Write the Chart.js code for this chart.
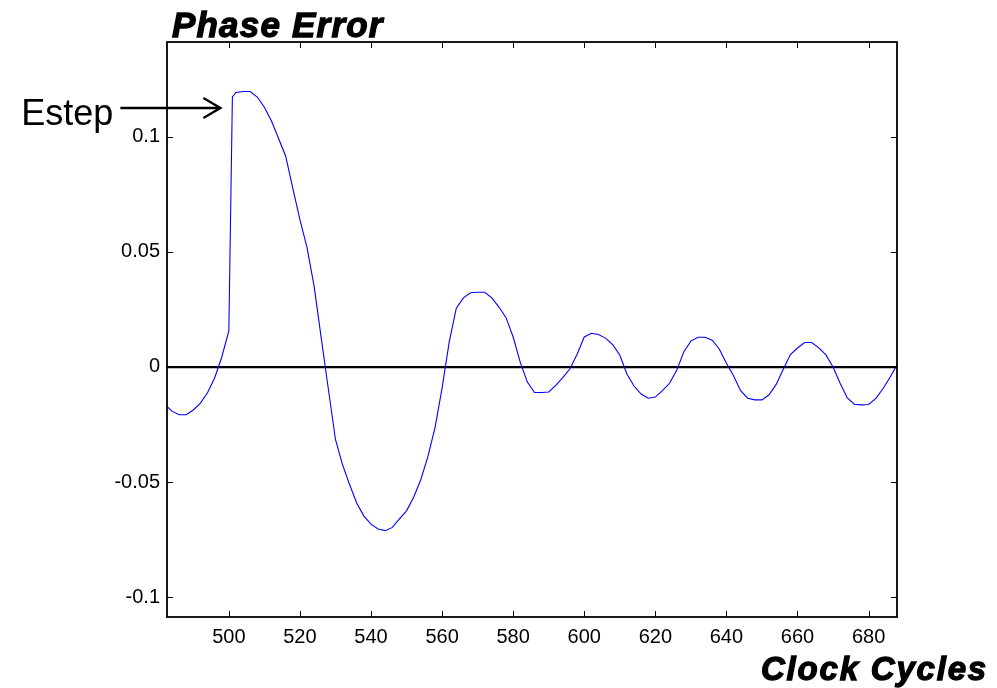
<!DOCTYPE html>
<html>
<head>
<meta charset="utf-8">
<script src="https://cdn.jsdelivr.net/npm/chart.js@4/dist/chart.umd.min.js"></script>
<style>
    html, body { margin: 0; padding: 0; background: #fff; }
    #wrap { width: 997px; height: 688px; }
</style>
</head>
<body>
<div id="wrap"><canvas id="phaseCanvas"></canvas></div>
<script>
// Phase error vs clock cycle
const cycles = [482.6, 484, 486, 488, 490, 492, 494, 496, 498, 500, 501, 502, 504, 506, 508, 510,
    512, 514, 516, 518, 520, 522, 524, 526, 528, 530, 532, 534, 536, 538, 540, 542, 544, 546, 548,
    550, 552, 554, 556, 558, 560, 562, 564, 566, 568, 570, 572, 574, 576, 578, 580, 582, 584, 586,
    588, 590, 592, 594, 596, 598, 600, 602, 604, 606, 608, 610, 612, 614, 616, 618, 620, 622, 624,
    626, 628, 630, 632, 634, 636, 638, 640, 642, 644, 646, 648, 650, 652, 654, 656, 658, 660, 662,
    664, 666, 668, 670, 672, 674, 676, 678, 680, 682, 684, 686, 688];
const phaseError = [-0.0172, -0.0192, -0.0208, -0.0208, -0.0187, -0.0157, -0.0112, -0.0048, 0.0042,
    0.0156, 0.1172, 0.1192, 0.1196, 0.1196, 0.1172, 0.1128, 0.1068, 0.0992, 0.0915, 0.0775, 0.0640,
    0.0518, 0.0350, 0.0125, -0.0096, -0.0315, -0.0425, -0.0512, -0.0592, -0.0648, -0.0683, -0.0704,
    -0.0711, -0.0697, -0.0660, -0.0625, -0.0566, -0.0490, -0.0390, -0.0265, -0.0092, 0.0108, 0.0255,
    0.0300, 0.0322, 0.0324, 0.0324, 0.0300, 0.0260, 0.0214, 0.0130, 0.0020, -0.0066, -0.0111, -0.0111,
    -0.0109, -0.0080, -0.0045, -0.0008, 0.0055, 0.0130, 0.0146, 0.0141, 0.0125, 0.0097, 0.0052,
    -0.0031, -0.0083, -0.0118, -0.0136, -0.0131, -0.0103, -0.0071, -0.0015, 0.0065, 0.0112, 0.0129,
    0.0129, 0.0116, 0.0078, 0.0016, -0.0038, -0.0103, -0.0136, -0.0143, -0.0143, -0.0121, -0.0076,
    -0.0010, 0.0054, 0.0082, 0.0106, 0.0106, 0.0083, 0.0052, 0.0000, -0.0071, -0.0135, -0.0162,
    -0.0165, -0.0163, -0.0138, -0.0096, -0.0046, 0.0009];
const xTicks = [500, 520, 540, 560, 580, 600, 620, 640, 660, 680];
const yTicks = [-0.1, -0.05, 0, 0.05, 0.1];

const FONT = "'Liberation Sans', Arial, sans-serif";

// heavy italic label (the original uses a black weight)
function heavyText(ctx, text, x, y) {
    ctx.fillText(text, x, y);
    ctx.lineWidth = 1.3;
    ctx.strokeText(text, x, y);
}

// box, inward ticks and the text annotations, MATLAB style
const matlabFrame = {
    id: 'matlabFrame',
    afterDraw(chart) {
        const { ctx, chartArea: a, scales: { x, y } } = chart;
        ctx.save();
        ctx.strokeStyle = '#000';
        ctx.lineWidth = 1;
        ctx.beginPath();
        x.ticks.forEach(t => {
            const px = Math.round(x.getPixelForValue(t.value)) + 0.5;
            ctx.moveTo(px, a.bottom); ctx.lineTo(px, a.bottom - 6);
            ctx.moveTo(px, a.top); ctx.lineTo(px, a.top + 6);
        });
        y.ticks.forEach(t => {
            const py = Math.round(y.getPixelForValue(t.value)) + 0.5;
            ctx.moveTo(a.left, py); ctx.lineTo(a.left + 6, py);
            ctx.moveTo(a.right, py); ctx.lineTo(a.right - 6, py);
        });
        ctx.stroke();

        ctx.lineWidth = 1.8;
        ctx.strokeRect(a.left, a.top, a.right - a.left, a.bottom - a.top);

        // titles
        ctx.fillStyle = '#000';
        ctx.textBaseline = 'alphabetic';
        ctx.font = "italic bold 35px " + FONT;
        ctx.letterSpacing = '1.2px';
        ctx.textAlign = 'left';
        heavyText(ctx, 'Phase Error', a.left + 5, a.top - 5);
        ctx.font = "italic bold 33px " + FONT;
        ctx.letterSpacing = '1.8px';
        ctx.textAlign = 'right';
        heavyText(ctx, 'Clock Cycles', 988, a.bottom + 63);
        ctx.letterSpacing = '0px';

        // Estep arrow pointing at the step
        const tipX = x.getPixelForValue(cycles[10]) - 12;
        const tipY = y.getPixelForValue(phaseError[10]) + 11;
        ctx.font = "36px " + FONT;
        ctx.textAlign = 'right';
        ctx.fillText('Estep', tipX - 107, tipY + 17);
        ctx.lineWidth = 2.4;
        ctx.beginPath();
        ctx.moveTo(tipX - 100, tipY); ctx.lineTo(tipX, tipY);
        ctx.moveTo(tipX - 17, tipY - 10); ctx.lineTo(tipX, tipY); ctx.lineTo(tipX - 17, tipY + 10);
        ctx.stroke();
        ctx.restore();
    }
};

new Chart(document.getElementById('phaseCanvas').getContext('2d'), {
    type: 'line',
    data: {
        datasets: [{
            data: cycles.map((c, i) => ({ x: c, y: phaseError[i] })),
            borderColor: '#0000ff',
            borderWidth: 1.1,
            pointRadius: 0,
            tension: 0,
            fill: false
        }]
    },
    options: {
        responsive: true,
        maintainAspectRatio: false,
        animation: false,
        layout: { padding: { left: 0, top: 42, right: 100, bottom: 0 } },
        plugins: { legend: { display: false }, tooltip: { enabled: false } },
        scales: {
            x: {
                type: 'linear',
                min: 482.6,
                max: 688,
                afterBuildTicks: s => { s.ticks = xTicks.map(v => ({ value: v })); },
                afterFit: s => { s.height = 71; },
                grid: { display: false, drawTicks: false },
                border: { display: false },
                ticks: { color: '#000', padding: 8, maxRotation: 0, font: { family: FONT, size: 20 },
                    callback: v => String(v) }
            },
            y: {
                min: -0.1086,
                max: 0.1411,
                z: 1,
                afterBuildTicks: s => { s.ticks = yTicks.map(v => ({ value: v })); },
                afterFit: s => { s.width = 167; },
                grid: {
                    drawTicks: false,
                    color: c => (c.tick && c.tick.value === 0 ? '#000' : 'rgba(0,0,0,0)'),
                    lineWidth: 2.2
                },
                border: { display: false },
                ticks: { color: '#000', padding: 7, font: { family: FONT, size: 20 },
                    callback: v => String(v) }
            }
        }
    },
    plugins: [matlabFrame]
});
</script>
</body>
</html>
